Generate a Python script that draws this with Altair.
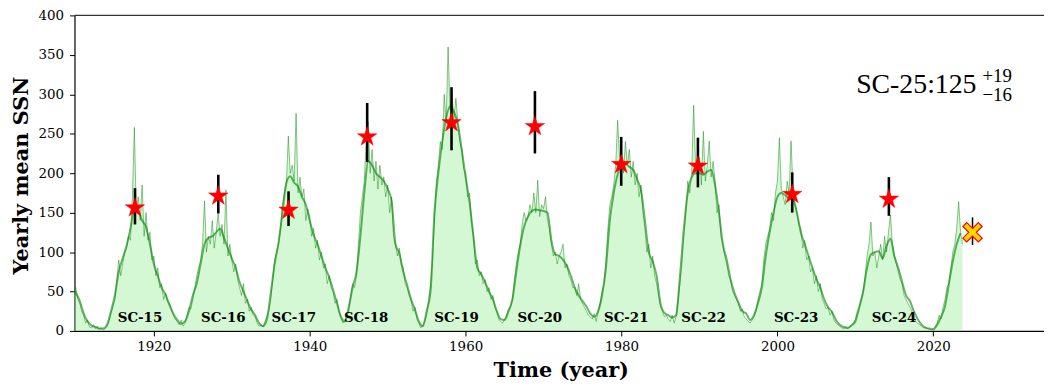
import altair as alt
import pandas as pd

# ---------------- data ----------------
# noisy sunspot number (sampled every quarter year), first sample at 1909.75
ssn_start = 1909.75
ssn_step = 0.25
ssn_vals = [
    50,
    55, 40, 35, 25,    # 1910
    20, 10, 14, 5,     # 1911
    4, 8, 3, 6,        # 1912
    2, 4, 1, 3,        # 1913
    6, 12, 22, 30,     # 1914
    40, 65, 90, 70,    # 1915
    85, 100, 105, 120, # 1916
    115, 170, 258, 150,# 1917
    170, 140, 185, 120,# 1918
    150, 115, 125, 90, # 1919
    95, 70, 80, 55,    # 1920
    60, 40, 48, 38,    # 1921
    35, 28, 20, 15,    # 1922
    12, 8, 14, 6,      # 1923
    10, 20, 30, 28,    # 1924
    40, 55, 70, 80,    # 1925
    90, 110, 165, 100, # 1926
    120, 110, 140, 105,# 1927
    125, 150, 120, 135,# 1928
    110, 179, 95, 110, # 1929
    90, 75, 85, 65,    # 1930
    55, 45, 60, 35,    # 1931
    40, 25, 30, 20,    # 1932
    18, 10, 6, 8,      # 1933
    5, 12, 18, 25,     # 1934
    40, 65, 90, 100,   # 1935
    110, 130, 160, 175,# 1936
    185, 247, 200, 210,# 1937
    190, 276, 175, 195,# 1938
    170, 180, 140, 155,# 1939
    145, 120, 130, 105,# 1940
    115, 90, 100, 80,  # 1941
    85, 60, 70, 55,    # 1942
    50, 35, 40, 25,    # 1943
    18, 10, 14, 20,    # 1944
    25, 45, 60, 55,    # 1945
    70, 110, 150, 170, # 1946
    190, 240, 265, 200,# 1947
    230, 190, 215, 180,# 1948
    210, 185, 195, 170,# 1949
    185, 150, 170, 120,# 1950
    110, 95, 105, 85,  # 1951
    80, 60, 55, 45,    # 1952
    40, 25, 30, 15,    # 1953
    10, 4, 8, 12,      # 1954
    20, 40, 60, 90,    # 1955
    140, 190, 210, 240,# 1956
    230, 300, 265, 360,# 1957
    280, 300, 270, 295,# 1958
    265, 240, 230, 205,# 1959
    200, 170, 175, 140,# 1960
    120, 85, 90, 70,   # 1961
    75, 60, 65, 50,    # 1962
    55, 40, 45, 30,    # 1963
    25, 15, 12, 10,    # 1964
    15, 20, 28, 30,    # 1965
    40, 65, 85, 100,   # 1966
    110, 135, 150, 140,# 1967
    145, 160, 150, 175,# 1968
    150, 191, 145, 160,# 1969
    155, 170, 140, 130,# 1970
    110, 95, 100, 85,  # 1971
    95, 100, 110, 80,  # 1972
    85, 70, 65, 55,    # 1973
    55, 45, 60, 40,    # 1974
    35, 30, 25, 20,    # 1975
    18, 15, 22, 12,    # 1976
    25, 35, 50, 60,    # 1977
    90, 130, 160, 170, # 1978
    185, 210, 267, 220,# 1979
    225, 200, 240, 210,# 1980
    230, 195, 215, 185,# 1981
    200, 170, 185, 150,# 1982
    130, 100, 110, 80, # 1983
    95, 70, 60, 45,    # 1984
    30, 25, 18, 20,    # 1985
    15, 12, 20, 10,    # 1986
    18, 40, 60, 85,    # 1987
    120, 150, 190, 175,# 1988
    200, 286, 210, 195,# 1989
    220, 185, 253, 190,# 1990
    210, 241, 195, 215,# 1991
    190, 150, 160, 120,# 1992
    110, 95, 85, 70,   # 1993
    65, 50, 45, 40,    # 1994
    35, 25, 28, 18,    # 1995
    15, 12, 10, 14,    # 1996
    18, 25, 40, 50,    # 1997
    60, 90, 110, 120,  # 1998
    130, 150, 140, 175,# 1999
    190, 245, 180, 170,# 2000
    160, 190, 175, 241,# 2001
    180, 160, 150, 135,# 2002
    130, 105, 115, 90, # 2003
    95, 75, 80, 60,    # 2004
    70, 50, 60, 40,    # 2005
    35, 28, 30, 20,    # 2006
    25, 14, 10, 8,     # 2007
    6, 4, 3, 5,        # 2008
    3, 4, 8, 10,       # 2009
    15, 25, 30, 40,    # 2010
    50, 70, 95, 110,   # 2011
    138, 95, 100, 80,  # 2012
    95, 110, 90, 120,  # 2013
    100, 125, 147, 110,# 2014
    95, 85, 75, 65,    # 2015
    60, 45, 40, 35,    # 2016
    30, 25, 20, 12,    # 2017
    10, 8, 6, 4,       # 2018
    5, 3, 2, 1,        # 2019
    3, 6, 10, 20,      # 2020
    15, 30, 40, 55,    # 2021
    60, 80, 100, 110,  # 2022
    130, 164, 125, 110,# 2023
]

# smoothed sunspot number (sampled every half year), first sample at 1909.5
smooth_start = 1909.5
smooth_step = 0.5
smooth_vals = [
    58,
    48, 38, 22, 12, 7, 5, 3, 3, 8, 25,            # 1910-1914
    45, 75, 92, 108, 130, 155, 152, 140, 132, 110,  # 1915-1919
    85, 70, 55, 46, 33, 22, 14, 9, 12, 25,          # 1920-1924
    45, 60, 85, 110, 118, 120, 125, 130, 118, 105,  # 1925-1929
    92, 80, 62, 50, 38, 27, 20, 10, 6, 15,          # 1930-1934
    48, 85, 112, 150, 188, 196, 188, 183, 170, 160, # 1935-1939
    140, 122, 110, 95, 80, 68, 52, 35, 18, 12,      # 1940-1944
    30, 55, 75, 120, 175, 215, 210, 200, 195, 190,  # 1945-1949
    180, 165, 110, 98, 75, 58, 40, 27, 12, 6,       # 1950-1954
    25, 50, 150, 200, 240, 270, 285, 278, 262, 230, # 1955-1959
    195, 163, 120, 80, 72, 62, 50, 40, 25, 15,      # 1960-1964
    14, 25, 40, 75, 108, 132, 145, 152, 154, 153,   # 1965-1969
    152, 150, 115, 97, 95, 90, 82, 70, 55, 45,      # 1970-1974
    38, 31, 22, 18, 25, 45, 80, 140, 175, 198,      # 1975-1979
    210, 212, 208, 204, 192, 178, 140, 100, 88, 70, # 1980-1984
    35, 23, 20, 17, 20, 70, 130, 175, 195, 200,     # 1985-1989
    200, 198, 202, 204, 185, 150, 110, 90, 65, 48,  # 1990-1994
    36, 25, 22, 14, 20, 35, 55, 95, 125, 150,       # 1995-1999
    170, 175, 172, 168, 167, 150, 125, 110, 95, 80, # 2000-2004
    66, 55, 40, 30, 24, 14, 8, 5, 4, 7,             # 2005-2009
    12, 30, 50, 80, 97, 100, 101, 92, 108, 117,     # 2010-2014
    95, 80, 62, 45, 38, 25, 15, 8, 4, 3,            # 2015-2019
    2, 8, 18, 31, 60, 88, 110, 124,                 # 2020-2023
]

# predicted cycle maxima (stars) with error bars
cycle_names = ["SC-15", "SC-16", "SC-17", "SC-18", "SC-19",
               "SC-20", "SC-21", "SC-22", "SC-23", "SC-24"]
pred_year = [1917.58, 1928.27, 1937.28, 1947.37, 1958.19,
             1968.89, 1979.96, 1989.8, 2001.9, 2014.3]
pred_val = [156, 171, 153, 246, 264, 259, 211, 209, 173, 167]
pred_lo = [135, 149, 133, 214, 229, 225, 184, 182, 150, 146]
pred_hi = [181, 198, 177, 289, 309, 304, 246, 245, 201, 195]
label_year = [1918.22, 1928.91, 1937.95, 1947.24, 1958.83,
              1969.52, 1980.6, 1990.53, 2002.4, 2014.97]
label_val = [16] * 10

# SC-25 forecast
sc25_year = [2025.03]
sc25_val = [125]
sc25_lo = [109]
sc25_hi = [144]

ann_main = "SC-25:125"
ann_sup = "+19"
ann_sub = "\u221216"

# ---------------- tables ----------------
noisy = pd.DataFrame({
    "t": [ssn_start + ssn_step * i for i in range(len(ssn_vals))],
    "v": ssn_vals,
})
smooth = pd.DataFrame({
    "t": [smooth_start + smooth_step * i for i in range(len(smooth_vals))],
    "v": smooth_vals,
})
pred = pd.DataFrame({"t": pred_year, "v": pred_val, "lo": pred_lo, "hi": pred_hi})
labels = pd.DataFrame({"t": label_year, "v": label_val, "name": cycle_names})
sc25 = pd.DataFrame({"t": sc25_year, "v": sc25_val, "lo": sc25_lo, "hi": sc25_hi})
ann_big = pd.DataFrame({"t": [2025.54], "v": [301.5], "txt": [ann_main]})
ann_small = pd.DataFrame({"t": [2026.3, 2026.3], "v": [316.0, 291.0],
                          "txt": [ann_sup, ann_sub]})

W, H = 977, 318
FONT = "DejaVu Serif"

xs = alt.Scale(domain=[1909.82, 2034.2], nice=False, zero=False)
ys = alt.Scale(domain=[0, 400], nice=False, zero=True)

xaxis = alt.Axis(
    values=[1920, 1940, 1960, 1980, 2000, 2020], format="d",
    title="Time (year)", titleFont=FONT, titleFontSize=21, titleFontWeight="bold",
    titleColor="black", titleX=490, titleY=46, titleAlign="center",
    titleBaseline="alphabetic", titleAnchor="middle",
    labelFont=FONT, labelFontSize=13.5, labelColor="black", labelPadding=4,
    tickColor="black", tickSize=5, tickWidth=1, domainColor="black",
    domainWidth=1.2, grid=False,
)
yaxis = alt.Axis(
    values=list(range(0, 401, 50)),
    title="Yearly mean SSN", titleFont=FONT, titleFontSize=21, titleFontWeight="bold",
    titleColor="black", titleX=-53, titleY=161, titleAngle=270,
    titleAlign="center", titleBaseline="middle",
    labelFont=FONT, labelFontSize=13.5, labelColor="black", labelPadding=6,
    tickColor="black", tickSize=5, tickWidth=1, domainColor="black",
    domainWidth=1.2, grid=False,
)


def X(field="t"):
    return alt.X(f"{field}:Q", scale=xs, axis=xaxis)


def Y(field="v"):
    return alt.Y(f"{field}:Q", scale=ys, axis=yaxis)


STAR = ("M0,-1L0.2245,-0.309L0.951,-0.309L0.363,0.118L0.588,0.809L0,0.382"
        "L-0.588,0.809L-0.363,0.118L-0.951,-0.309L-0.2245,-0.309Z")
XMARK = ("M0,-0.4L0.6,-1L1,-0.6L0.4,0L1,0.6L0.6,1L0,0.4L-0.6,1L-1,0.6"
         "L-0.4,0L-1,-0.6L-0.6,-1Z")

area = alt.Chart(noisy).mark_area(color="lightgreen", opacity=0.4, clip=True).encode(
    x=X(), y=Y(),
)
thin = alt.Chart(noisy).mark_line(color="green", opacity=0.45, strokeWidth=1, clip=True).encode(
    x=X(), y=Y(),
)
smooth_line = alt.Chart(smooth).mark_line(
    color="green", opacity=0.6, strokeWidth=2, interpolate="monotone", clip=True
).encode(x=X(), y=Y())
err = alt.Chart(pred).mark_rule(color="black", strokeWidth=2.6).encode(
    x=X(), y=Y("lo"), y2="hi:Q",
)
stars = alt.Chart(pred).mark_point(
    shape=STAR, size=420, filled=True, fill="red", stroke="red", strokeWidth=0.5, opacity=1
).encode(x=X(), y=Y())
err25 = alt.Chart(sc25).mark_rule(color="black", strokeWidth=1.5).encode(
    x=X(), y=Y("lo"), y2="hi:Q",
)
x25 = alt.Chart(sc25).mark_point(
    shape=XMARK, size=380, filled=True, fill="#ffd700", stroke="red", strokeWidth=1.2, opacity=1
).encode(x=X(), y=Y())
lab = alt.Chart(labels).mark_text(
    font=FONT, fontSize=13.5, fontWeight="bold", color="black", baseline="middle", align="center"
).encode(x=X(), y=Y(), text="name:N")
ann_main_layer = alt.Chart(ann_big).mark_text(
    font="Liberation Serif", fontSize=28, color="black", align="right", baseline="alphabetic"
).encode(x=X(), y=Y(), text="txt:N")
ann_small_layer = alt.Chart(ann_small).mark_text(
    font="Liberation Serif", fontSize=19, color="black", align="left", baseline="alphabetic"
).encode(x=X(), y=Y(), text="txt:N")
topline = alt.Chart(pd.DataFrame({"a": [0]})).mark_rule(color="#333333", strokeWidth=1.4).encode(
    x=alt.value(0), x2=alt.value(W), y=alt.value(0)
)

chart = alt.layer(
    area, thin, smooth_line, err, stars, err25, x25, lab,
    ann_main_layer, ann_small_layer, topline
).properties(
    width=W, height=H,
    padding={"left": 67, "top": 6, "right": 0, "bottom": 52},
    autosize=alt.AutoSizeParams(type="none"),
).configure_view(stroke=None)

chart.save("out.html", embed_options={"renderer": "svg", "actions": False})
